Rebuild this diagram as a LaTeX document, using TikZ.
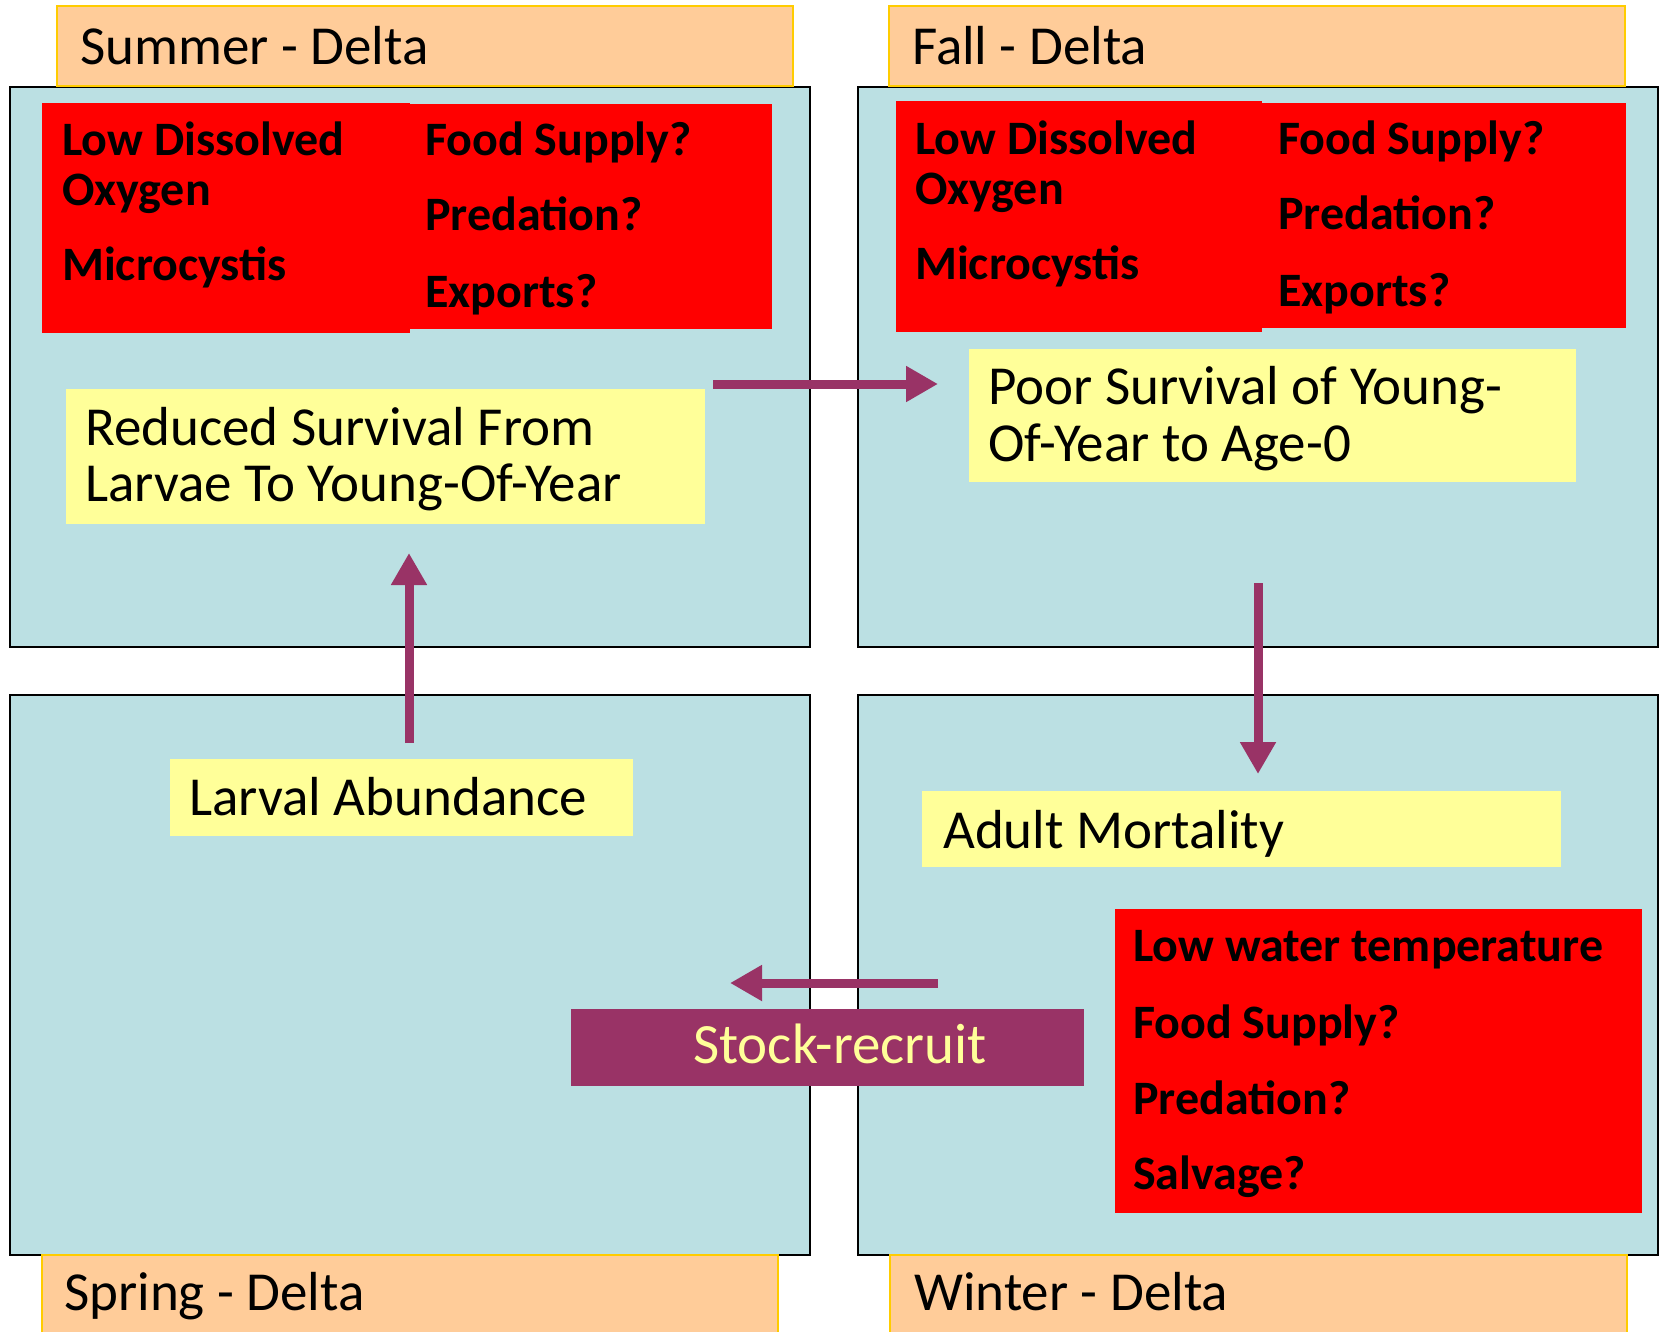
\documentclass[tikz,border=0pt]{standalone}
\usepackage{fontspec}
\setmainfont{Carlito}
\usetikzlibrary{arrows.meta}
\definecolor{seabg}{HTML}{BBE0E3}
\definecolor{peach}{HTML}{FFCC99}
\definecolor{goldedge}{HTML}{FFCC00}
\definecolor{paleyellow}{HTML}{FFFF99}
\definecolor{alarmred}{HTML}{FF0000}
\definecolor{plum}{HTML}{993366}
\newcommand\areabox[6]{\node[#2,anchor=north west,minimum width={(#5-#3)*1pt},minimum height={(#6-#4)*1pt}] (#1) at (#3,#4) {};}
\begin{document}
\begin{tikzpicture}[x=1pt,y=-1pt,
  panel/.style={draw=black,line width=2.5pt,fill=seabg,inner sep=0pt,outer sep=0pt},
  season/.style={draw=goldedge,line width=2pt,fill=peach,inner sep=0pt,outer sep=0pt},
  note/.style={fill=paleyellow,inner sep=0pt,outer sep=0pt},
  stress/.style={fill=alarmred,inner sep=0pt,outer sep=0pt},
  recruit/.style={fill=plum,inner sep=0pt,outer sep=0pt},
  txt/.style={anchor=base west,inner sep=0pt,font=\fontsize{55}{66}\selectfont},
  btxt/.style={anchor=base west,inner sep=0pt,font=\fontsize{48}{58}\selectfont\bfseries},
  flow/.style={draw=plum,line width=9pt,-{Triangle[length=32pt,width=34pt]}}
]
\clip (0,0) rectangle (1662,1331);
\fill[white] (0,0) rectangle (1662,1331);
% panels
\areabox{summerpanel}{panel}{10}{87}{810}{647}
\areabox{fallpanel}{panel}{858}{87}{1658}{647}
\areabox{springpanel}{panel}{10}{695}{810}{1255}
\areabox{winterpanel}{panel}{858}{695}{1658}{1255}
% season headers
\areabox{summerhead}{season}{57}{6}{793}{86}
\areabox{fallhead}{season}{889}{6}{1625}{86}
\areabox{springhead}{season}{42}{1255}{778}{1345}
\areabox{winterhead}{season}{890}{1255}{1627}{1345}
\node[txt] (summerlabel) at (80,64) {Summer - Delta};
\node[txt] (falllabel) at (912,64) {Fall - Delta};
\node[txt] (springlabel) at (64,1310) {Spring - Delta};
\node[txt] (winterlabel) at (914,1310) {Winter - Delta};
% summer red boxes
\areabox{summerredA}{stress}{42}{103}{410}{333}
\areabox{summerredB}{stress}{410}{104}{772}{329}
\node[btxt] (s1) at (62,155) {Low Dissolved};
\node[btxt] (s2) at (62,205) {Oxygen};
\node[btxt] (s3) at (62,280) {Microcystis};
\node[btxt] (s4) at (425,155) {Food Supply?};
\node[btxt] (s5) at (425,230) {Predation?};
\node[btxt] (s6) at (425,307) {Exports?};
% fall red boxes
\areabox{fallredA}{stress}{896}{101}{1262}{332}
\areabox{fallredB}{stress}{1262}{103}{1626}{328}
\node[btxt] (f1) at (915,154) {Low Dissolved};
\node[btxt] (f2) at (915,204) {Oxygen};
\node[btxt] (f3) at (915,279) {Microcystis};
\node[btxt] (f4) at (1278,154) {Food Supply?};
\node[btxt] (f5) at (1278,229) {Predation?};
\node[btxt] (f6) at (1278,306) {Exports?};
% winter red box
\areabox{winterred}{stress}{1115}{909}{1642}{1213}
\node[btxt] (w1) at (1133,961) {Low water temperature};
\node[btxt] (w2) at (1133,1038) {Food Supply?};
\node[btxt] (w3) at (1133,1114) {Predation?};
\node[btxt] (w4) at (1133,1189) {Salvage?};
% yellow notes
\areabox{reduced}{note}{66}{389}{705}{524}
\node[txt] (r1) at (85,445) {Reduced Survival From};
\node[txt] (r2) at (85,501) {Larvae To Young-Of-Year};
\areabox{poor}{note}{969}{349}{1576}{482}
\node[txt] (p1) at (988,404) {Poor Survival of Young-};
\node[txt] (p2) at (988,461) {Of-Year to Age-0};
\areabox{larval}{note}{170}{759}{633}{836}
\node[txt] (l1) at (189,815) {Larval Abundance};
\areabox{adult}{note}{922}{791}{1561}{867}
\node[txt] (m1) at (943,848) {Adult Mortality};
% stock-recruit
\areabox{stock}{recruit}{571}{1009}{1084}{1086}
\node[txt,text=paleyellow,font=\fontsize{57}{66}\selectfont] (k1) at (693,1063) {Stock-recruit};
% arrows
\coordinate (upStart) at (409,743);
\coordinate (upEnd) at (409,553);
\coordinate (rightStart) at (713,384);
\coordinate (rightEnd) at (938,384);
\coordinate (downStart) at (1258,583);
\coordinate (downEnd) at (1258,774);
\coordinate (leftStart) at (938,983);
\coordinate (leftEnd) at (730,983);
\draw[flow] (upStart) -- (upEnd);
\draw[flow] (rightStart) -- (rightEnd);
\draw[flow] (downStart) -- (downEnd);
\draw[flow] (leftStart) -- (leftEnd);
\end{tikzpicture}
\end{document}
